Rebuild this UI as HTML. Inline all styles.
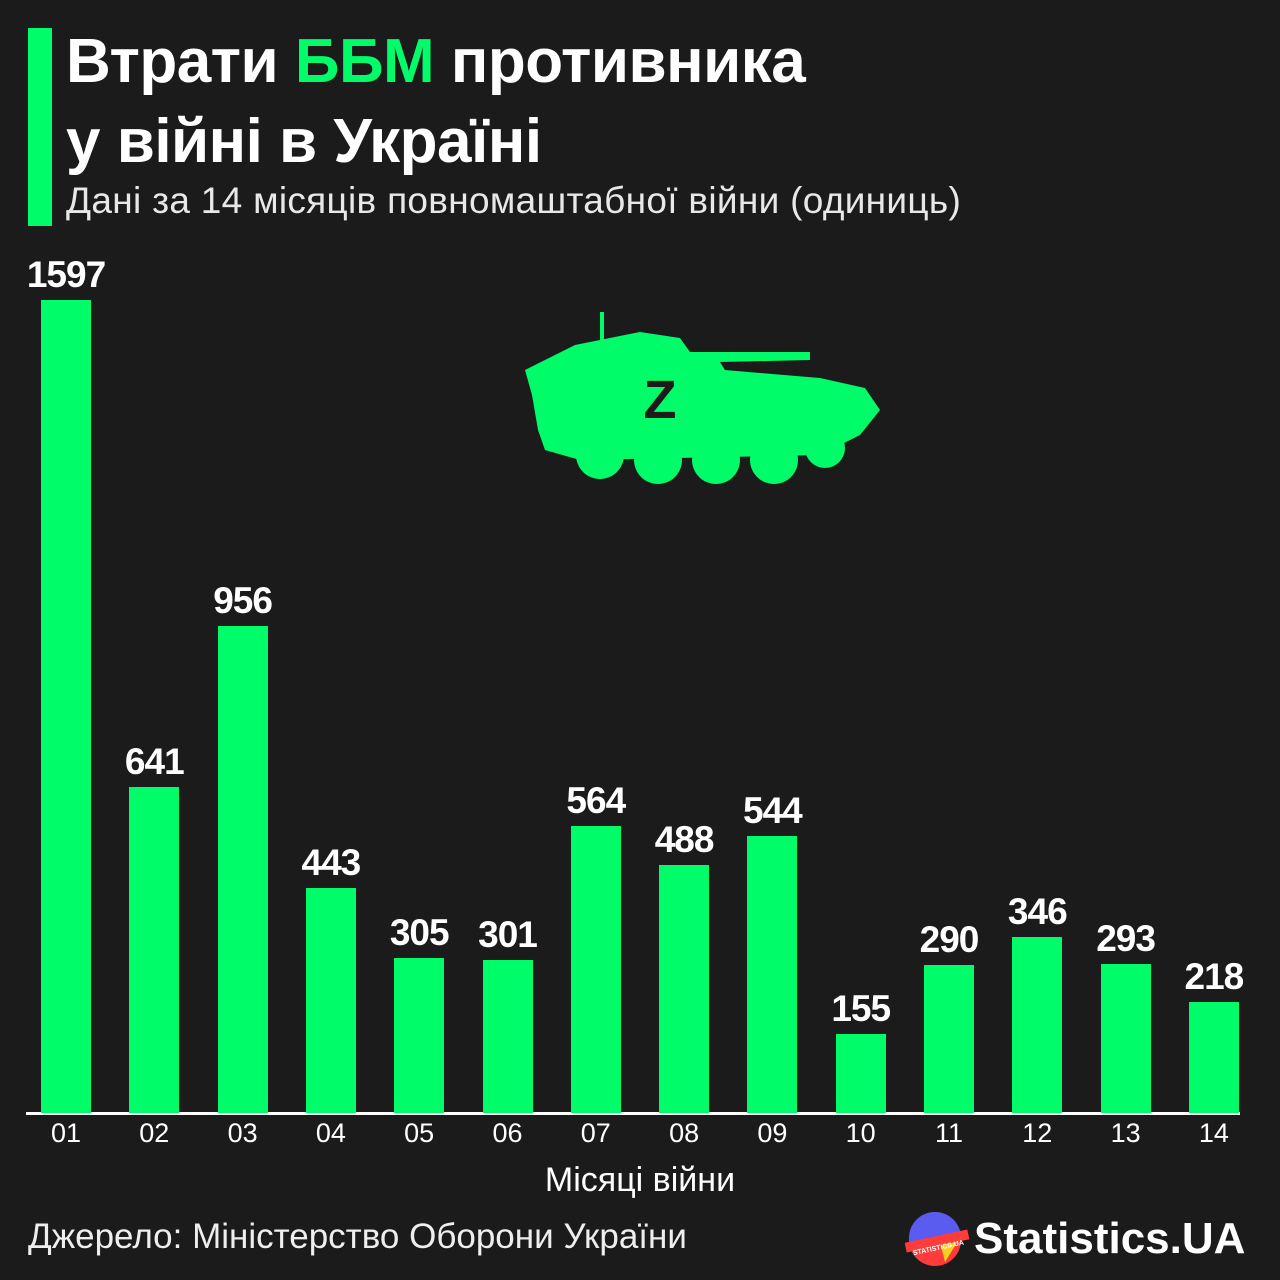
<!DOCTYPE html><html><head><meta charset="utf-8"><style>
body{margin:0;width:1280px;height:1280px;background:#1b1b1b;position:relative;overflow:hidden;font-family:"Liberation Sans",sans-serif;color:#fff}
.a{position:absolute}
.bar{position:absolute;width:50px;background:#00fc69;bottom:167px}
.v{position:absolute;width:120px;text-align:center;font-weight:bold;font-size:37px;letter-spacing:-1px}
.t{position:absolute;width:80px;text-align:center;font-size:27px;top:1118px}
</style></head><body>
<div class="a" style="left:28px;top:28px;width:24px;height:198px;background:#00fc69"></div>
<div class="a" style="left:66px;top:22px;font-size:62px;font-weight:bold;letter-spacing:-0.5px;line-height:80px">Втрати <span style="color:#00fc69">ББМ</span> противника<br>у війні в Україні</div>
<div class="a" style="left:66px;top:180px;font-size:37px;color:#e8e8e8;letter-spacing:0.3px">Дані за 14 місяців повномаштабної війни (одиниць)</div>
<svg class="a" style="left:520px;top:310px" width="375" height="180" viewBox="0 0 375 180">
<g fill="#00fc69">
<rect x="80" y="2" width="4" height="30"/>
<path d="M55 35 L120 22 L160 28 L170 42 L290 42 L290 50 L200 52 L205 60 L300 68 L345 78 L360 100 L340 125 L300 145 L60 150 L25 140 L18 120 L12 85 L5 60 Z"/>
<circle cx="80" cy="145" r="24"/><circle cx="138" cy="150" r="24"/><circle cx="196" cy="150" r="24"/><circle cx="254" cy="150" r="24"/><circle cx="305" cy="138" r="20"/>
</g>
<text x="140" y="108" font-family="Liberation Sans" font-weight="bold" font-size="54" fill="#1b1b1b" text-anchor="middle">Z</text>
</svg>
<div class="a" style="left:26px;top:1112px;width:1214px;height:3px;background:#fff"></div>
<div class="a" style="left:0;width:1280px;text-align:center;top:1161px;font-size:34px">Місяці війни</div>
<div class="a" style="left:28px;top:1217px;font-size:35px;color:#eee">Джерело: Міністерство Оборони України</div>
<svg class="a" style="left:905px;top:1212px" width="70" height="56"><circle cx="30" cy="28" r="26" fill="#ff3b3b"/><path d="M4 28 A26 26 0 0 1 56 24 L4 36Z" fill="#5a5cf0"/><path d="M56 24 L40 50 L36 34Z" fill="#f5d020"/><rect x="0" y="24" width="64" height="10" fill="#ff3b3b" transform="rotate(-12 32 29)"/><text x="6" y="38" font-size="7" font-weight="bold" fill="#fff" transform="rotate(-12 32 29)" font-family="Liberation Sans">STATISTICS.UA</text></svg>
<div class="a" style="left:974px;top:1214px;font-size:44px;font-weight:bold">Statistics.UA</div>
<div id="c"></div>
<script>
var d=[1597,641,956,443,305,301,564,488,544,155,290,346,293,218],h='';
d.forEach(function(v,i){var x=41+i*88.3,hh=v*0.509;
h+='<div class="bar" style="left:'+x+'px;height:'+hh+'px"></div>';
h+='<div class="v" style="left:'+(x-35)+'px;top:'+(1113-hh-46)+'px">'+v+'</div>';
h+='<div class="t" style="left:'+(x-15)+'px">'+(i<9?'0':'')+(i+1)+'</div>';});
document.getElementById('c').innerHTML=h;
</script>
</body></html>
